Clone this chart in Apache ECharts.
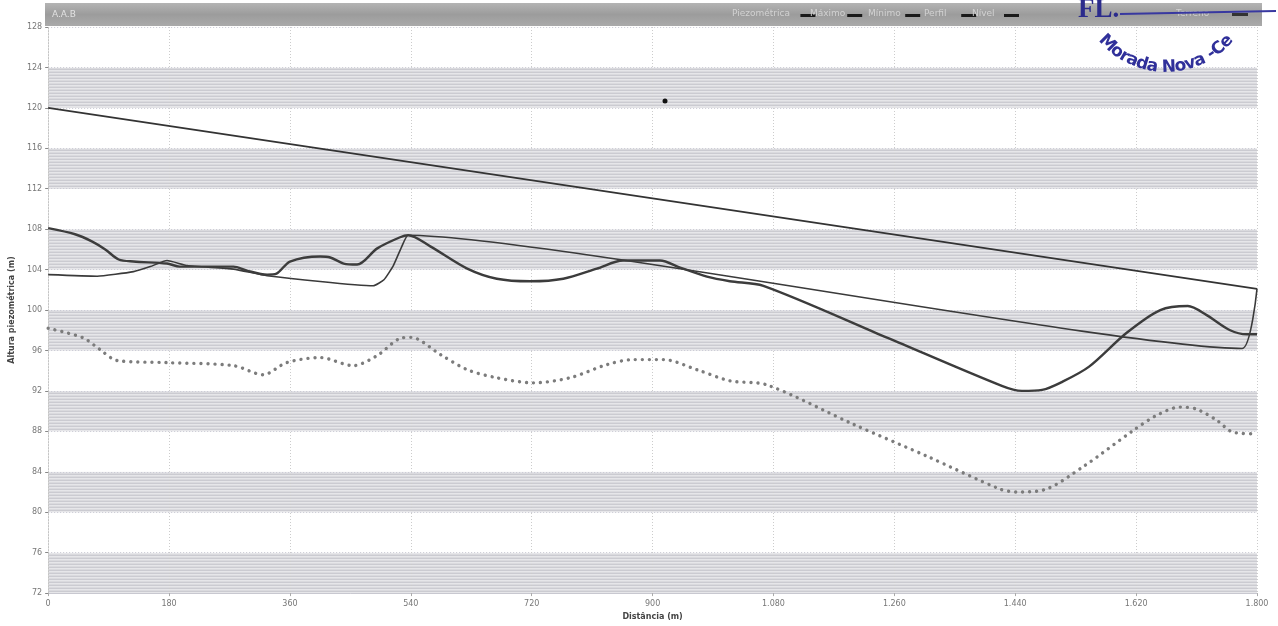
<!DOCTYPE html>
<html>
<head>
<meta charset="utf-8">
<script src="https://cdn.jsdelivr.net/npm/echarts@6/dist/echarts.min.js"></script>
<style>
  html, body { margin: 0; padding: 0; background: #ffffff; }
  #chart { width: 1278px; height: 626px; }
</style>
</head>
<body>
<div id="chart"></div>
<script>
// Distances along the line (m) and heights (m) for each profile
const maxDist = [0, 1800];
const maxHeight = [120, 102.1];

const envDist = [0, 73, 127, 152, 177, 207, 276, 326, 484, 500, 514, 526, 536, 1778, 1800];
const envHeight = [103.5, 103.35, 103.8, 104.3, 104.9, 104.4, 104.05, 103.4, 102.4, 103.0, 104.4, 106.2, 107.4, 96.2, 102.1];

const profDist = [0, 40, 65, 85, 105, 127, 177, 196, 276, 296, 326, 340, 360, 405, 420, 440, 460, 490, 524, 536, 569, 624, 668, 718, 767, 817, 856, 911, 941, 981, 1015, 1065, 1250, 1420, 1450, 1480, 1510, 1550, 1606, 1656, 1697, 1725, 1760, 1785, 1800];
const profHeight = [108.1, 107.5, 106.8, 106.0, 105.0, 104.8, 104.6, 104.3, 104.3, 103.9, 103.5, 103.6, 104.8, 105.3, 105.2, 104.6, 104.5, 106.1, 107.2, 107.4, 106.3, 104.1, 103.1, 102.85, 103.1, 104.1, 104.9, 104.9, 104.2, 103.3, 102.85, 102.4, 97.25, 92.5, 92.0, 92.1, 92.9, 94.4, 97.75, 100.0, 100.4, 99.5, 98.0, 97.6, 97.6];

const piezDist = [0, 52, 77, 103, 177, 276, 320, 355, 405, 454, 490, 524, 540, 584, 624, 668, 722, 777, 832, 871, 916, 966, 1015, 1070, 1199, 1310, 1417, 1442, 1482, 1541, 1616, 1651, 1685, 1710, 1740, 1765, 1800];
const piezHeight = [98.2, 97.25, 96.1, 95.0, 94.8, 94.5, 93.6, 94.8, 95.3, 94.5, 95.5, 97.2, 97.3, 95.6, 94.1, 93.3, 92.8, 93.3, 94.6, 95.1, 95.1, 94.1, 93.0, 92.6, 88.7, 85.5, 82.3, 82.0, 82.2, 84.5, 88.1, 89.6, 90.4, 90.2, 89.1, 87.9, 87.75];

// Header labels
const headerTitle = 'A.A.B';
const legendNames = ['Piezométrica', 'Máximo', 'Mínimo', 'Perfil', 'Nível'];
const stampMark = 'FL.';
const stampText = 'Morada Nova -Ce';

const pairs = (xs, ys) => xs.map((x, i) => [x, ys[i]]);

// Striped fill for the shaded bands
function stripePattern() {
  const c = document.createElement('canvas');
  c.width = 6; c.height = 3;
  const g = c.getContext('2d');
  const rows = ['#cbcbd1', '#e6e6e9', '#dadade'];
  rows.forEach((col, i) => { g.fillStyle = col; g.fillRect(0, i, 6, 1); });
  return { image: c, repeat: 'repeat' };
}

const chart = echarts.init(document.getElementById('chart'), null, { renderer: 'canvas' });

// Header bar, legend and stamp drawn as graphic elements
const graphics = [];
graphics.push({
  type: 'rect', z: 10,
  shape: { x: 45, y: 3, width: 1217, height: 23 },
  style: {
    fill: new echarts.graphic.LinearGradient(0, 0, 0, 1, [
      { offset: 0, color: '#b4b4b4' },
      { offset: 0.5, color: '#9c9c9c' },
      { offset: 1, color: '#aaaaaa' }
    ])
  }
});
graphics.push({
  type: 'text', z: 11, left: 52, top: 10,
  style: { text: headerTitle, fill: '#e2e2e2', font: '9px "DejaVu Sans"' }
});
const legendX = [732, 810, 868, 924, 972];
legendNames.forEach((name, i) => {
  graphics.push({
    type: 'text', z: 11, left: legendX[i], top: 9,
    style: { text: name, fill: '#d2d2d2', font: '9px "DejaVu Sans"' }
  });
  const w = name.length * 5.2;
  graphics.push({
    type: 'rect', z: 11,
    shape: { x: legendX[i] + w + 6, y: 14, width: 15, height: 3 },
    style: { fill: '#1a1a1a' }
  });
});
graphics.push({
  type: 'text', z: 11, left: 1176, top: 9,
  style: { text: 'Terreno', fill: '#d2d2d2', font: '9px "DejaVu Sans"' }
});
graphics.push({
  type: 'rect', z: 11,
  shape: { x: 1232, y: 13, width: 16, height: 3 },
  style: { fill: '#333' }
});

// Stamp
graphics.push({
  type: 'text', z: 20, left: 1078, top: -3,
  style: { text: stampMark, fill: '#2b2b8c', font: 'bold 27px "Liberation Serif"' }
});
graphics.push({
  type: 'line', z: 20,
  shape: { x1: 1120, y1: 14, x2: 1276, y2: 11 },
  style: { stroke: '#3838a0', lineWidth: 2 }
});
graphics.push({
  type: 'circle', z: 20,
  shape: { cx: 665, cy: 101, r: 2.5 },
  style: { fill: '#111' }
});

(function arcText() {
  const cx = 1166, cy = -16, r = 92;
  const font = 'bold 17px "DejaVu Sans"';
  const ctx = document.createElement('canvas').getContext('2d');
  ctx.font = font;
  const widths = Array.from(stampText).map(ch => ctx.measureText(ch).width * 0.98);
  const total = widths.reduce((a, b) => a + b, 0);
  let pos = -total / 2;
  Array.from(stampText).forEach((ch, i) => {
    const mid = pos + widths[i] / 2;
    pos += widths[i];
    const ang = mid / r; // radians from straight down, positive to the right
    graphics.push({
      type: 'text', z: 20,
      x: cx + r * Math.sin(ang),
      y: cy + r * Math.cos(ang),
      rotation: ang,
      style: {
        text: ch, fill: '#30309a', font: font,
        align: 'center', verticalAlign: 'bottom'
      }
    });
  });
})();

const option = {
  backgroundColor: '#ffffff',
  animation: false,
  grid: { left: 48, right: 21, top: 27, bottom: 29 },
  xAxis: {
    type: 'value', min: 0, max: 1800, interval: 180,
    name: 'Distância (m)', nameLocation: 'middle', nameGap: 16,
    nameTextStyle: { fontSize: 8, fontWeight: 'bold', color: '#444', fontFamily: 'DejaVu Sans' },
    axisLine: { show: true, lineStyle: { color: '#c8c8d0', width: 1 } },
    axisTick: { show: true, length: 3, lineStyle: { color: '#aaa' } },
    axisLabel: {
      fontSize: 8, color: '#777', margin: 7, fontFamily: 'DejaVu Sans',
      formatter: v => v >= 1000 ? Math.floor(v / 1000) + '.' + String(v % 1000).padStart(3, '0') : String(v)
    },
    splitLine: { show: true, lineStyle: { color: '#cccccc', type: [1, 2], width: 1 } }
  },
  yAxis: {
    type: 'value', min: 72, max: 128, interval: 4,
    name: 'Altura piezométrica (m)', nameLocation: 'middle', nameGap: 32, nameRotate: 90,
    nameTextStyle: { fontSize: 8, fontWeight: 'bold', color: '#444', fontFamily: 'DejaVu Sans' },
    axisLine: { show: true, lineStyle: { color: '#c4c4c4', type: [1, 2] } },
    axisTick: { show: true, length: 3, lineStyle: { color: '#888' } },
    axisLabel: { fontSize: 8, color: '#777', margin: 6, fontFamily: 'DejaVu Sans' },
    splitLine: { show: true, lineStyle: { color: '#c8c8d2', type: [1, 2], width: 1 } },
    splitArea: { show: true, areaStyle: { color: [stripePattern(), '#ffffff'] } }
  },
  series: [
    {
      name: 'Máximo', type: 'line', data: pairs(maxDist, maxHeight),
      symbol: 'none', lineStyle: { color: '#333', width: 1.8 }, z: 3
    },
    {
      name: 'Mínimo', type: 'line', data: pairs(envDist, envHeight),
      symbol: 'none', smooth: 0.15, lineStyle: { color: '#3a3a3a', width: 1.6 }, z: 3
    },
    {
      name: 'Perfil', type: 'line', data: pairs(profDist, profHeight),
      symbol: 'none', smooth: 0.3, lineStyle: { color: '#3c3c3c', width: 2.4 }, z: 4
    },
    {
      name: 'Piezométrica', type: 'line', data: pairs(piezDist, piezHeight),
      symbol: 'none', smooth: 0.3,
      lineStyle: { color: '#7c7c7c', width: 3.4, type: [0.01, 7], cap: 'round' }, z: 4
    }
  ],
  graphic: graphics
};

chart.setOption(option);
</script>
</body>
</html>
